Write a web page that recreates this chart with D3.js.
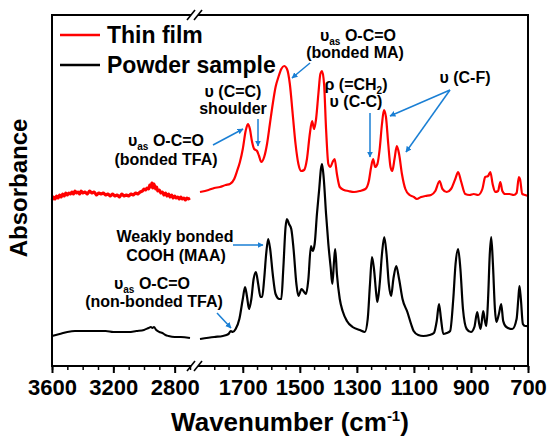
<!DOCTYPE html>
<html>
<head>
<meta charset="utf-8">
<script src="https://cdn.jsdelivr.net/npm/d3@7"></script>
<style>
  body { margin: 0; background: #fff; }
  text { font-family: "Liberation Sans", Arial, sans-serif; font-weight: bold; }
</style>
</head>
<body>
<script>
// wavenumbers (cm-1) and absorbance (arbitrary units)
var redLeftWn  = [3600,3590,3580,3570,3560,3550,3540,3530,3520,3510,3500,3490,3480,3470,3460,3450,3440,3430,3420,3410,3400,3385,3370,3355,3340,3325,3310,3295,3280,3265,3250,3235,3220,3205,3190,3175,3160,3145,3130,3115,3100,3085,3070,3055,3040,3025,3010,3000,2990,2980,2970,2962,2955,2948,2942,2936,2930,2924,2918,2910,2900,2890,2880,2870,2860,2850,2840,2830,2820,2810,2800,2790,2780,2770,2760,2750,2740,2730,2720,2710,2700];
var redLeftAbs = [166,169,167,170,168,171,169,172,170,173,171,173,172,174,172,175,173,174,172,175,173,174,172,175,173,174,171,173,172,173,171,172,170,172,170,171,169,172,170,171,170,172,171,173,172,174,175,177,176,178,177,181,179,183,178,182,180,177,179,175,176,173,174,171,173,170,172,169,171,168,170,168,169,167,169,167,168,166,168,167,168];

var redRightWn  = [1850,1820,1800,1780,1760,1745,1730,1720,1710,1700,1690,1682,1675,1668,1660,1650,1643,1635,1625,1615,1605,1595,1585,1575,1565,1555,1545,1535,1525,1515,1505,1495,1485,1475,1465,1457,1450,1443,1435,1428,1422,1415,1408,1400,1393,1385,1378,1370,1360,1345,1330,1310,1290,1270,1258,1250,1243,1236,1228,1220,1212,1205,1198,1190,1182,1176,1168,1160,1152,1142,1130,1115,1100,1090,1075,1060,1040,1025,1010,1000,985,970,955,945,935,920,905,890,875,860,850,840,832,824,815,805,797,790,780,765,750,740,732,728,720,710,700];
var redRightAbs = [174,176,178,179,181,182,187,195,204,217,235,242,237,225,217,215,210,204,209,222,242,262,279,289,297,300,297,282,252,222,202,195,196,207,232,245,237,247,272,292,295,282,237,202,199,204,207,192,179,176,175,174,175,177,185,199,207,199,202,217,242,256,249,222,199,195,207,220,212,192,177,171,169,167,169,170,171,175,185,177,174,177,187,194,185,172,171,172,171,177,189,190,194,182,174,175,184,175,172,172,171,173,189,187,172,171,170];

var blackLeftWn  = [3600,3550,3500,3450,3400,3350,3300,3250,3200,3150,3100,3050,3000,2970,2955,2945,2935,2920,2900,2880,2860,2840,2800,2760,2700];
var blackLeftAbs = [30,32,34,35,35,35,35,35,34,34,34,35,36,38,39,38,39,36,34,33,31,30,29,29,28];

var blackRightWn  = [1850,1800,1770,1750,1742,1735,1725,1712,1700,1692,1685,1678,1670,1662,1654,1646,1638,1632,1625,1618,1611,1604,1595,1585,1572,1565,1558,1550,1545,1538,1530,1522,1512,1505,1494,1485,1478,1470,1461,1455,1448,1440,1432,1426,1422,1416,1408,1400,1392,1386,1380,1376,1370,1360,1350,1335,1315,1290,1272,1262,1254,1247,1240,1232,1228,1220,1212,1204,1196,1188,1180,1172,1162,1152,1140,1123,1110,1101,1085,1067,1045,1030,1020,1012,1005,997,985,973,962,954,945,937,928,915,900,888,878,871,866,857,851,846,840,834,829,823,816,811,802,794,787,776,755,740,734,730,725,718,710,705,700];
var blackRightAbs = [27,29,30,32,35,34,37,47,67,79,69,57,67,87,94,82,69,69,87,112,127,117,92,72,67,67,97,139,147,142,137,117,82,70,77,74,72,87,120,115,122,152,177,197,202,187,152,122,99,82,105,117,92,67,55,45,39,36,34,47,82,109,97,72,64,82,112,129,112,82,70,87,100,87,67,54,42,35,31,30,31,33,45,62,47,32,33,35,67,102,117,97,57,37,34,39,54,42,37,55,45,40,67,112,129,102,57,44,52,62,45,39,37,47,67,80,67,42,40,40,39];

var leftMajor = [3600, 3200, 2800];
var rightMajor = [1700, 1500, 1300, 1100, 900, 700];

var W = 550, H = 437;
var plotL = 52, plotR = 528, plotT = 15, plotB = 366;
var breakL = 191, breakR = 198;

var svg = d3.select("body").append("svg")
    .attr("width", W)
    .attr("height", H);

var xL = d3.scaleLinear().domain([3600, 2700]).range([plotL, 190]);
var xR = d3.scaleLinear().domain([1850, 700]).range([200, plotR]);
var y = d3.scaleLinear().domain([0, 351]).range([plotB, plotT]);

// spectra
function drawLine(xs, wn, ab, color, width, curve) {
    var pts = wn.map(function(d, i) { return [d, ab[i]]; });
    svg.append("path")
        .datum(pts)
        .attr("fill", "none")
        .attr("stroke", color)
        .attr("stroke-width", width)
        .attr("stroke-linejoin", "round")
        .attr("d", d3.line()
            .x(function(d) { return xs(d[0]); })
            .y(function(d) { return y(d[1]); })
            .curve(curve || d3.curveMonotoneX));
}
drawLine(xL, redLeftWn, redLeftAbs, "#ff0000", 3, d3.curveLinear);
drawLine(xR, redRightWn, redRightAbs, "#ff0000", 2.2);
drawLine(xL, blackLeftWn, blackLeftAbs, "#000", 2);
drawLine(xR, blackRightWn, blackRightAbs, "#000", 2.2);

// frame
svg.append("line").attr("x1", plotL).attr("x2", plotL).attr("y1", plotT).attr("y2", plotB)
    .attr("stroke", "#000").attr("stroke-width", 2);
svg.append("line").attr("x1", plotR).attr("x2", plotR).attr("y1", plotT).attr("y2", plotB)
    .attr("stroke", "#000").attr("stroke-width", 2);
[plotT, plotB].forEach(function(yy) {
    svg.append("line").attr("x1", plotL - 1).attr("x2", breakL).attr("y1", yy).attr("y2", yy)
        .attr("stroke", "#000").attr("stroke-width", 2);
    svg.append("line").attr("x1", breakR).attr("x2", plotR + 1).attr("y1", yy).attr("y2", yy)
        .attr("stroke", "#000").attr("stroke-width", 2);
    [breakL, breakR].forEach(function(bx) {
        svg.append("line").attr("x1", bx - 4).attr("x2", bx + 4).attr("y1", yy + 5).attr("y2", yy - 5)
            .attr("stroke", "#000").attr("stroke-width", 1.6);
    });
});

// axes
function drawAxis(scale, major, minor) {
    var gMinor = svg.append("g").attr("transform", "translate(0," + plotB + ")")
        .call(d3.axisBottom(scale).tickValues(minor).tickSize(4).tickFormat(""));
    gMinor.select(".domain").remove();
    gMinor.selectAll("line").attr("stroke-width", 1.5);
    var gMajor = svg.append("g").attr("transform", "translate(0," + plotB + ")")
        .call(d3.axisBottom(scale).tickValues(major).tickSize(7).tickPadding(6).tickFormat(d3.format("d")));
    gMajor.select(".domain").remove();
    gMajor.selectAll("line").attr("stroke-width", 2);
    gMajor.selectAll("text")
        .attr("font-size", "22px")
        .attr("font-family", "Liberation Sans, Arial, sans-serif")
        .attr("font-weight", "bold")
        .attr("fill", "#000");
}
drawAxis(xL, leftMajor, d3.range(3600, 2699, -100));
drawAxis(xR, rightMajor, d3.range(1800, 699, -50));

// legend
svg.append("line").attr("x1", 60).attr("x2", 100).attr("y1", 35).attr("y2", 35)
    .attr("stroke", "#ff0000").attr("stroke-width", 2.5);
svg.append("text").attr("x", 107).attr("y", 43).attr("font-size", "23px").text("Thin film");
svg.append("line").attr("x1", 60).attr("x2", 100).attr("y1", 65).attr("y2", 65)
    .attr("stroke", "#000").attr("stroke-width", 2.5);
svg.append("text").attr("x", 107).attr("y", 73).attr("font-size", "23px").text("Powder sample");

// axis titles
svg.append("text")
    .attr("transform", "translate(27,188) rotate(-90)")
    .attr("text-anchor", "middle")
    .attr("font-size", "24px")
    .text("Absorbance");
var xt = svg.append("text")
    .attr("x", 290).attr("y", 431)
    .attr("text-anchor", "middle")
    .attr("font-size", "26px");
xt.append("tspan").text("Wavenumber (cm");
xt.append("tspan").attr("font-size", "15px").attr("dy", -10).text("-1");
xt.append("tspan").attr("dy", 10).text(")");

// annotations
var blue = "#1a7fd4";
svg.append("defs").append("marker")
    .attr("id", "arr")
    .attr("viewBox", "0 0 10 10")
    .attr("refX", 9).attr("refY", 5)
    .attr("markerWidth", 6).attr("markerHeight", 6)
    .attr("markerUnits", "userSpaceOnUse")
    .attr("orient", "auto")
    .append("path").attr("d", "M0,0 L10,5 L0,10 z").attr("fill", blue);

function label(x, yy, parts) {
    var t = svg.append("text").attr("x", x).attr("y", yy)
        .attr("text-anchor", "middle").attr("font-size", "16px");
    parts.forEach(function(p) {
        var s = t.append("tspan").text(p[0]);
        if (p[1] === "sub") s.attr("font-size", "10px").attr("dy", 4);
        if (p[1] === "back") s.attr("dy", -4);
    });
}
function arrow(x1, y1, x2, y2) {
    svg.append("line").attr("x1", x1).attr("y1", y1).attr("x2", x2).attr("y2", y2)
        .attr("stroke", blue).attr("stroke-width", 1.5).attr("marker-end", "url(#arr)");
}

label(233, 97, [["υ (C=C)"]]);
label(233, 114, [["shoulder"]]);
arrow(258, 119, 258, 146);

label(166, 146, [["υ"], ["as", "sub"], [" O-C=O", "back"]]);
label(166, 165, [["(bonded TFA)"]]);
arrow(213, 145, 243, 129);

label(358, 41, [["υ"], ["as", "sub"], [" O-C=O", "back"]]);
label(355, 58, [["(bonded MA)"]]);
arrow(310, 63, 292, 78);

var rho = svg.append("text").attr("x", 356).attr("y", 90).attr("text-anchor", "middle").attr("font-size", "16px");
rho.append("tspan").text("ρ (=CH");
rho.append("tspan").attr("font-size", "10px").attr("dy", 4).text("2");
rho.append("tspan").attr("dy", -4).text(")");
label(356, 107, [["υ (C-C)"]]);
arrow(370, 113, 370, 157);

label(465, 83, [["υ (C-F)"]]);
arrow(450, 90, 390, 116);
arrow(450, 90, 406, 152);

label(175, 242, [["Weakly bonded"]]);
label(176, 261, [["COOH (MAA)"]]);
arrow(233, 245, 263, 245);

label(152, 289, [["υ"], ["as", "sub"], [" O-C=O", "back"]]);
label(154, 307, [["(non-bonded TFA)"]]);
arrow(217, 313, 231, 328);
</script>
</body>
</html>
